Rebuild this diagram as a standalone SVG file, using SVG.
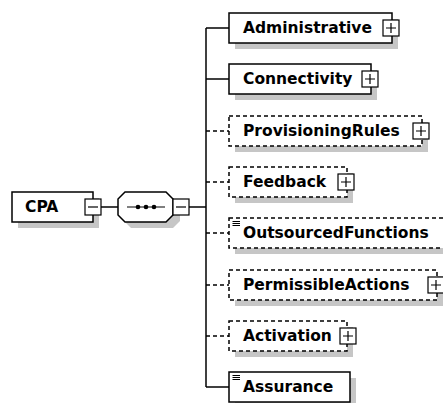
<svg xmlns="http://www.w3.org/2000/svg" width="443" height="403" viewBox="0 0 443 403">
  <style>
    .box { fill: #fff; stroke: #000; stroke-width: 1.5; }
    .opt { fill: #fff; stroke: #000; stroke-width: 1.5; stroke-dasharray: 4 3; }
    .shadow { fill: #c6c6c6; }
    .btn { fill: #fff; stroke: #000; stroke-width: 1.2; }
    .sign { stroke: #000; stroke-width: 1.2; fill: none; }
    .wire { stroke: #000; stroke-width: 1.5; fill: none; }
    .wire-opt { stroke: #000; stroke-width: 1.5; fill: none; stroke-dasharray: 4 3; }
    .lbl { font-family: "DejaVu Sans", Verdana, sans-serif; font-weight: bold; font-size: 15.5px; fill: #000; }
    .icon { stroke: #000; stroke-width: 1; fill: none; }
  </style>

  <!-- connectors -->
  <g id="connectors">
    <line class="wire" x1="101" y1="207" x2="118" y2="207"/>
    <line class="wire" x1="189" y1="207" x2="206" y2="207"/>
    <line class="wire" x1="206" y1="28" x2="206" y2="387"/>
    <line class="wire" x1="206" y1="28" x2="229" y2="28"/>
    <line class="wire" x1="206" y1="79" x2="229" y2="79"/>
    <line class="wire-opt" x1="206" y1="131" x2="229" y2="131"/>
    <line class="wire-opt" x1="206" y1="182" x2="229" y2="182"/>
    <line class="wire-opt" x1="206" y1="233" x2="229" y2="233"/>
    <line class="wire-opt" x1="206" y1="285" x2="229" y2="285"/>
    <line class="wire-opt" x1="206" y1="336" x2="229" y2="336"/>
    <line class="wire" x1="206" y1="387" x2="229" y2="387"/>
  </g>

  <!-- root element -->
  <g id="CPA">
    <rect class="shadow" x="18" y="198" width="81" height="30"/>
    <rect class="box" x="12" y="192" width="81" height="30"/>
    <text class="lbl" x="25" y="212">CPA</text>
    <rect class="btn" x="85" y="199" width="16" height="16"/>
    <line class="sign" x1="88" y1="207" x2="98" y2="207"/>
  </g>

  <!-- sequence compositor -->
  <g id="sequence">
    <polygon class="shadow" points="131,198 173,198 180,205 180,221 173,228 131,228 124,221 124,205"/>
    <polygon class="box" points="125,192 166,192 173,199 173,215 166,222 125,222 118,215 118,199"/>
    <line class="sign" x1="127" y1="207" x2="165" y2="207"/>
    <circle cx="138" cy="207" r="2.3"/>
    <circle cx="146" cy="207" r="2.3"/>
    <circle cx="154" cy="207" r="2.3"/>
    <rect class="btn" x="173" y="199" width="16" height="16"/>
    <line class="sign" x1="176" y1="207" x2="186" y2="207"/>
  </g>

  <g id="Administrative">
    <rect class="shadow" x="235" y="19" width="163" height="30"/>
    <rect class="box" x="229" y="13" width="163" height="30"/>
    <text class="lbl" x="243" y="33">Administrative</text>
    <rect class="btn" x="383" y="20" width="16" height="16"/>
    <path class="sign" d="M386 28H396M391 23V33"/>
  </g>

  <g id="Connectivity">
    <rect class="shadow" x="235" y="70" width="142" height="30"/>
    <rect class="box" x="229" y="64" width="142" height="30"/>
    <text class="lbl" x="243" y="84">Connectivity</text>
    <rect class="btn" x="362" y="71" width="16" height="16"/>
    <path class="sign" d="M365 79H375M370 74V84"/>
  </g>

  <g id="ProvisioningRules">
    <rect class="shadow" x="235" y="122" width="193" height="30"/>
    <rect class="opt" x="229" y="116" width="193" height="30"/>
    <text class="lbl" x="243" y="136">ProvisioningRules</text>
    <rect class="btn" x="413" y="123" width="16" height="16"/>
    <path class="sign" d="M416 131H426M421 126V136"/>
  </g>

  <g id="Feedback">
    <rect class="shadow" x="235" y="173" width="118" height="30"/>
    <rect class="opt" x="229" y="167" width="118" height="30"/>
    <text class="lbl" x="243" y="187">Feedback</text>
    <rect class="btn" x="338" y="174" width="16" height="16"/>
    <path class="sign" d="M341 182H351M346 177V187"/>
  </g>

  <g id="OutsourcedFunctions">
    <rect class="shadow" x="235" y="224" width="220" height="30"/>
    <rect class="opt" x="229" y="218" width="220" height="30"/>
    <path class="icon" d="M232.5 221.5H240M232.5 223.5H240M232.5 225.5H240"/>
    <text class="lbl" x="243" y="238">OutsourcedFunctions</text>
  </g>

  <g id="PermissibleActions">
    <rect class="shadow" x="235" y="276" width="208" height="30"/>
    <rect class="opt" x="229" y="270" width="208" height="30"/>
    <text class="lbl" x="243" y="290">PermissibleActions</text>
    <rect class="btn" x="428" y="277" width="16" height="16"/>
    <path class="sign" d="M431 285H441M436 280V290"/>
  </g>

  <g id="Activation">
    <rect class="shadow" x="235" y="327" width="118" height="30"/>
    <rect class="opt" x="229" y="321" width="118" height="30"/>
    <text class="lbl" x="243" y="341">Activation</text>
    <rect class="btn" x="340" y="328" width="16" height="16"/>
    <path class="sign" d="M343 336H353M348 331V341"/>
  </g>

  <g id="Assurance">
    <rect class="shadow" x="235" y="378" width="121" height="30"/>
    <rect class="box" x="229" y="372" width="121" height="30"/>
    <path class="icon" d="M232.5 375.5H240M232.5 377.5H240M232.5 379.5H240"/>
    <text class="lbl" x="243" y="392">Assurance</text>
  </g>
</svg>
